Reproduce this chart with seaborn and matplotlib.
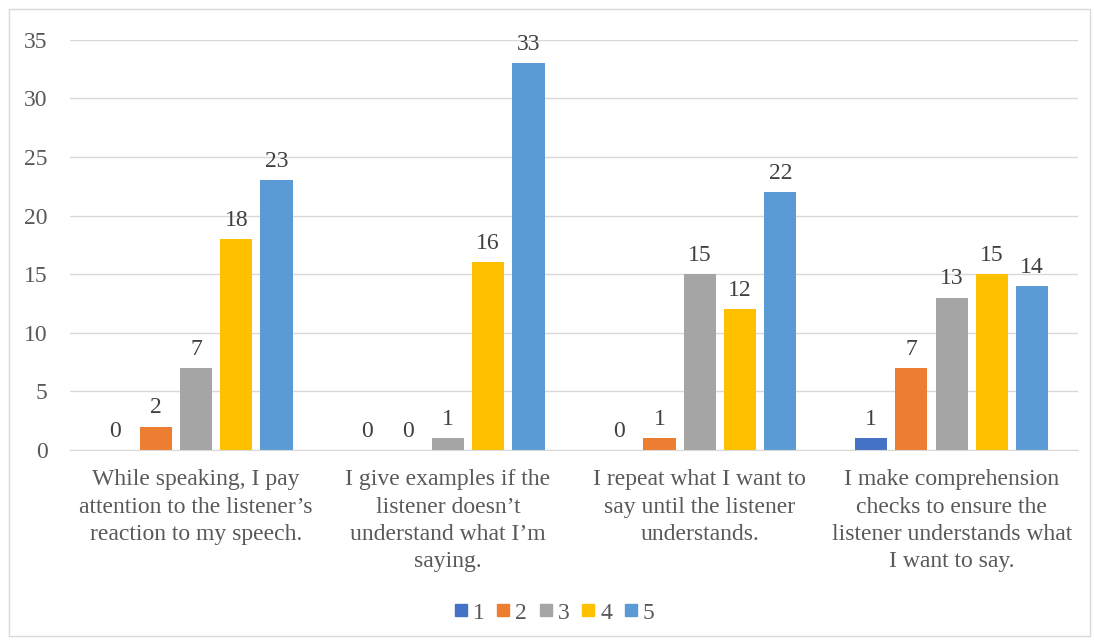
import pandas as pd
import seaborn as sns
import matplotlib.pyplot as plt
from matplotlib.lines import Line2D
from matplotlib.patches import Rectangle

# values
statements = [
    "While speaking, I pay\nattention to the listener\u2019s\nreaction to my speech.",
    "I give examples if the\nlistener doesn\u2019t\nunderstand what I\u2019m\nsaying.",
    "I repeat what I want to\nsay until the listener\nunderstands.",
    "I make comprehension\nchecks to ensure the\nlistener understands what\nI want to say.",
]
ratings = ["1", "2", "3", "4", "5"]
r1 = [0, 0, 0, 1]
r2 = [2, 0, 1, 7]
r3 = [7, 1, 15, 13]
r4 = [18, 16, 12, 15]
r5 = [23, 33, 22, 14]
colors = ["#4472C4", "#ED7D31", "#A5A5A5", "#FFC000", "#5B9BD5"]

rows = []
for rating, vals in zip(ratings, [r1, r2, r3, r4, r5]):
    for s, v in zip(statements, vals):
        rows.append({"statement": s, "rating": rating, "count": v})
df = pd.DataFrame(rows)

sns.set_style("white")
plt.rcParams["font.family"] = ["Liberation Serif", "DejaVu Serif"]
text_col = "#595959"
fs = 17

fig = plt.figure(figsize=(10.94, 6.41), dpi=100)
ax = fig.add_axes([0.064, 0.298, 0.921, 0.64])

sns.barplot(data=df, x="statement", y="count", hue="rating", palette=colors,
            order=statements, hue_order=ratings, width=0.8, gap=0.2,
            saturation=1, linewidth=0, legend=False, ax=ax)

for cont in ax.containers:
    ax.bar_label(cont, fmt="%d", padding=6, fontsize=fs, color="#404040")

ax.set_ylim(0, 35)
ax.set_yticks(range(0, 36, 5))
ax.set_xlim(-0.5, 3.5)
ax.yaxis.grid(True, color="#d9d9d9", linewidth=1)
ax.set_axisbelow(True)
for side in ["top", "right", "left"]:
    ax.spines[side].set_visible(False)
ax.spines["bottom"].set_color("#d9d9d9")
ax.tick_params(axis="y", length=0, pad=16, labelsize=fs, labelcolor=text_col)
ax.tick_params(axis="x", length=0, pad=14, labelsize=fs, labelcolor=text_col)
for lab in ax.get_xticklabels():
    lab.set_linespacing(1.38)
    lab.set_verticalalignment("top")
ax.set_xlabel("")
ax.set_ylabel("")

handles = [Line2D([], [], marker="s", linestyle="", markersize=8.5, color=c)
           for c in colors]
fig.legend(handles, ratings, loc="center", bbox_to_anchor=(0.507, 0.044),
           ncol=5, frameon=False, fontsize=fs, handlelength=0.5,
           handletextpad=0.25, columnspacing=0.55, labelcolor=text_col)

fig.patches.append(Rectangle((0.008, 0.008), 0.988, 0.978, transform=fig.transFigure,
                             fill=False, edgecolor="#d9d9d9", linewidth=1))

fig.savefig("out.png", dpi=100)
